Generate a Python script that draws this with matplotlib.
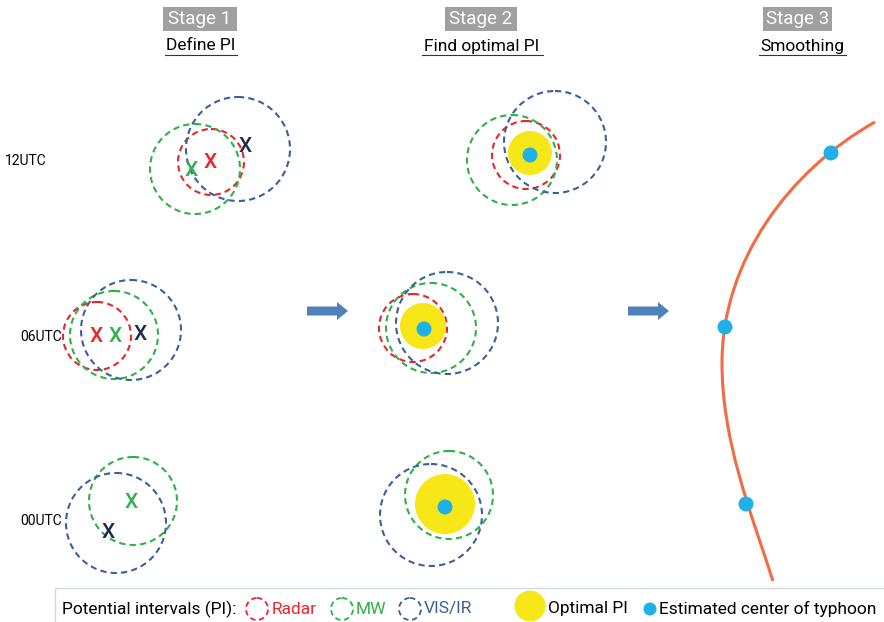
import numpy as np
import matplotlib
matplotlib.use("Agg")
import matplotlib.pyplot as plt
from matplotlib.patches import Circle, Rectangle, FancyArrow, PathPatch
from matplotlib.path import Path

plt.rcParams['font.family'] = ['Roboto', 'DejaVu Sans']

# header texts
stages = ["Stage 1", "Stage 2", "Stage 3"]
steps = ["Define PI", "Find optimal PI", "Smoothing"]
times = ["12UTC", "06UTC", "00UTC"]

# stage 1: potential intervals (cx, cy, r) in picture pixels
radar_s1 = [(211, 162, 33), (97, 336, 34)]
mw_s1 = [(195, 169, 45), (114, 335, 44), (133, 501, 44)]
vis_s1 = [(238, 149, 52), (131, 330, 50), (116, 523, 50)]
radar_x = [(210, 162), (96, 337)]
mw_x = [(191, 171), (115, 337), (131, 503)]
vis_x = [(245, 146), (140, 334), (108, 533)]

# stage 2
radar_s2 = [(526, 155, 34), (413, 328, 34)]
mw_s2 = [(512, 160, 45), (431, 328, 45), (449, 495, 44)]
vis_s2 = [(555, 142, 51), (447, 323, 51), (431, 515, 51)]
optimal = [(530, 153, 22), (423, 326, 23), (445, 504, 30)]
centers_s2 = [(530, 155), (424, 329), (445, 507)]

# stage 3: smoothed track and the estimated centres
track_x = [875, 790, 722, 722, 722, 750, 773]
track_y = [122, 170, 260, 363, 440, 510, 581]
centers_s3 = [(831, 153), (725, 327), (746, 504)]

RED = "#e8262a"
GREEN = "#2fb04a"
BLUE = "#3c6096"
NAVY = "#1f2a4f"
YELLOW = "#f7e718"
CYAN = "#20b0e8"
ORANGE = "#f26b43"
DASH = (0, (3, 2))

fig = plt.figure(figsize=(8.84, 6.22), dpi=100)
ax = fig.add_axes([0, 0, 1, 1])
ax.set_xlim(0, 884)
ax.set_ylim(622, 0)
ax.axis("off")

def ring(c, color, lw=1.5):
    ax.add_patch(Circle((c[0], c[1]), c[2], fill=False, ec=color, lw=lw, ls=DASH))

def dot(c, r, color):
    ax.add_patch(Circle(c, r, fc=color, ec="none", zorder=3))

for c in radar_s1 + radar_s2:
    ring(c, RED)
for c in mw_s1 + mw_s2:
    ring(c, GREEN)
for c in vis_s1 + vis_s2:
    ring(c, BLUE)

for (x, y) in radar_x:
    ax.text(x, y, "X", color=RED, fontsize=15, fontweight="medium", ha="center", va="center")
for (x, y) in mw_x:
    ax.text(x, y, "X", color=GREEN, fontsize=15, fontweight="medium", ha="center", va="center")
for (x, y) in vis_x:
    ax.text(x, y, "X", color=NAVY, fontsize=15, fontweight="medium", ha="center", va="center")

for (x, y, r) in optimal:
    dot((x, y), r, YELLOW)
for c in centers_s2:
    dot(c, 7.5, CYAN)

# smooth track as two cubic bezier pieces
verts = list(zip(track_x, track_y))
codes = [Path.MOVETO] + [Path.CURVE4] * 6
ax.add_patch(PathPatch(Path(verts, codes), fill=False, ec=ORANGE, lw=2.2))
for c in centers_s3:
    dot(c, 7.5, CYAN)

# arrows between stages
for x0 in [307, 628]:
    ax.add_patch(FancyArrow(x0, 311, 41, 0, width=9, head_width=18, head_length=11,
                            length_includes_head=True, fc="#4f81bd", ec="none"))

# headers
box_x = [163, 445, 763]
box_w = [74, 72, 69]
sub_x = [201, 482, 802]
line_x = [(165, 237), (422, 543), (759, 846)]
for i in range(3):
    ax.add_patch(Rectangle((box_x[i], 7), box_w[i], 24, fc="#a0a0a0", ec="none"))
    ax.text(box_x[i] + box_w[i] / 2, 19.5, stages[i], color="white", fontsize=13.5,
            ha="center", va="center")
    ax.text(sub_x[i], 46, steps[i], color="black", fontsize=12.5, ha="center", va="center")
    ax.plot(line_x[i], [55, 55], color="#333333", lw=0.8)

time_x = [5, 20, 20]
time_y = [161, 337, 521]
for i in range(3):
    ax.text(time_x[i], time_y[i], times[i], fontsize=10, ha="left", va="center")

# legend
ax.add_patch(Rectangle((55, 588), 835, 40, fill=False, ec="#d0d8e2", lw=1))
ly = 609
fs = 12.5
ax.text(62, ly, "Potential intervals (PI):", fontsize=fs, ha="left", va="center")
ring((257, ly, 11), RED, lw=1.3)
ax.text(272, ly, "Radar", color=RED, fontsize=fs, ha="left", va="center")
ring((342, ly, 11), GREEN, lw=1.3)
ax.text(356, ly, "MW", color=GREEN, fontsize=fs, ha="left", va="center")
ring((410, ly, 11), BLUE, lw=1.3)
ax.text(424, ly, "VIS/IR", color=BLUE, fontsize=fs, ha="left", va="center")
dot((530, 606), 15.5, YELLOW)
ax.text(548, ly, "Optimal PI", fontsize=fs, ha="left", va="center")
dot((650, ly), 6.5, CYAN)
ax.text(659, ly, "Estimated center of typhoon", fontsize=fs, ha="left", va="center")

fig.savefig("out.png", dpi=100)
